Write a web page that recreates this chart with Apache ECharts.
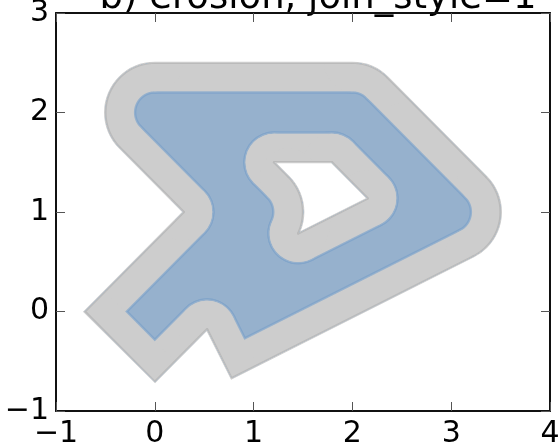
<!DOCTYPE html>
<html><head><meta charset="utf-8">
<script src="https://cdn.jsdelivr.net/npm/echarts@6/dist/echarts.min.js"></script>
<style>html,body{margin:0;padding:0;background:#fff;} #chart{width:560px;height:447px;}</style>
</head><body><div id="chart"></div>
<script>
// ---- data ----
const titleText = 'b) erosion, join_style=1';
const lineX = [0, 1, 0, 2, 3, 1];   // source line vertices (x)
const lineY = [0, 1, 2, 2, 1, 0];   // source line vertices (y)
const dilateDist = 0.5;             // gray polygon = line.buffer(0.5, cap_style=square)
const erodeDist = 0.3;              // blue polygon = gray.buffer(-0.3), round joins
const xTicks = [-1, 0, 1, 2, 3, 4];
const yTicks = [-1, 0, 1, 2, 3];

// ---- geometry: dilated line = union of segment rectangles (square end caps) + join disks ----
function components(X, Y, r) {
  const comps = [], n = X.length;
  for (let i = 0; i < n - 1; i++) {
    const dx = X[i + 1] - X[i], dy = Y[i + 1] - Y[i], len = Math.hypot(dx, dy);
    const tx = dx / len, ty = dy / len;
    comps.push({ kind: 'rect', ax: X[i], ay: Y[i], tx: tx, ty: ty, nx: -ty, ny: tx,
      s0: i === 0 ? -r : 0, s1: i === n - 2 ? len + r : len, r: r });
  }
  for (let j = 1; j < n - 1; j++) comps.push({ kind: 'disk', cx: X[j], cy: Y[j], r: r });
  return comps;
}
function strictlyInside(c, px, py) {
  const eps = 1e-9;
  if (c.kind === 'disk') return Math.hypot(px - c.cx, py - c.cy) < c.r - eps;
  const s = (px - c.ax) * c.tx + (py - c.ay) * c.ty, q = (px - c.ax) * c.nx + (py - c.ay) * c.ny;
  return s > c.s0 + eps && s < c.s1 - eps && Math.abs(q) < c.r - eps;
}
function boundaryPieces(X, Y, r) {
  const comps = components(X, Y, r), step = 0.002, pieces = [];
  comps.forEach(function (c, k) {
    const curves = [];
    if (c.kind === 'rect') {
      const P = function (s, q) { return [c.ax + c.tx * s + c.nx * q, c.ay + c.ty * s + c.ny * q]; };
      const corners = [P(c.s0, r), P(c.s1, r), P(c.s1, -r), P(c.s0, -r)];
      for (let e = 0; e < 4; e++) {
        const A = corners[e], B = corners[(e + 1) % 4];
        const m = Math.ceil(Math.hypot(B[0] - A[0], B[1] - A[1]) / step), pts = [];
        for (let t = 0; t <= m; t++) pts.push([A[0] + (B[0] - A[0]) * t / m, A[1] + (B[1] - A[1]) * t / m]);
        curves.push({ pts: pts, closed: false });
      }
    } else {
      const m = Math.ceil(2 * Math.PI * r / step), pts = [];
      for (let t = 0; t < m; t++) {
        const a = 2 * Math.PI * t / m;
        pts.push([c.cx + r * Math.cos(a), c.cy + r * Math.sin(a)]);
      }
      curves.push({ pts: pts, closed: true });
    }
    curves.forEach(function (cv) {
      let pts = cv.pts;
      let keep = pts.map(function (p) {
        for (let j = 0; j < comps.length; j++) if (j !== k && strictlyInside(comps[j], p[0], p[1])) return false;
        return true;
      });
      if (cv.closed) {
        const idx = keep.indexOf(false);
        if (idx < 0) { pieces.push(pts.concat([pts[0]])); return; }
        pts = pts.slice(idx).concat(pts.slice(0, idx));
        keep = keep.slice(idx).concat(keep.slice(0, idx));
      }
      let run = [];
      for (let t = 0; t < pts.length; t++) {
        if (keep[t]) run.push(pts[t]);
        else { if (run.length > 1) pieces.push(run); run = []; }
      }
      if (run.length > 1) pieces.push(run);
    });
  });
  return pieces;
}
const dilatedBoundary = boundaryPieces(lineX, lineY, dilateDist);

// ---- chart ----
const chart = echarts.init(document.getElementById('chart'), null, { renderer: 'canvas' });
const fmt = function (v) { return v < 0 ? '\u2212' + Math.abs(v) : String(v); };
function makeAxis(pos, ticks, showLabel, margin) {
  return {
    type: 'value', position: pos,
    min: ticks[0], max: ticks[ticks.length - 1], interval: ticks[1] - ticks[0],
    axisLine: { show: true, onZero: false, lineStyle: { color: '#111', width: 2 } },
    axisTick: { show: true, inside: true, length: 9, lineStyle: { color: '#555', width: 1 } },
    axisLabel: { show: showLabel, formatter: fmt, fontSize: 30, fontFamily: 'DejaVu Sans', color: '#000', margin: margin },
    splitLine: { show: false }
  };
}
const stroke = function (pts, w, color, cap) {
  return { type: 'polyline', silent: true, shape: { points: pts },
    style: { fill: 'none', stroke: color, lineWidth: w, lineCap: cap || 'round', lineJoin: 'round' } };
};
function pxLine(api) { return lineX.map(function (x, i) { return api.coord([x, lineY[i]]); }); }
function unit(api) { const s = api.size([1, 1]); return (s[0] + s[1]) / 2; }
// fill path of the dilated shape in pixel space (all sub-paths same orientation -> nonzero = union)
function dilatedPathData(L, R) {
  const f = function (v) { return v.toFixed(3); };
  const pt = function (p) { return f(p[0]) + ' ' + f(p[1]); };
  const A = ' A ' + f(R) + ' ' + f(R) + ' 0 0 0 ';
  let d = '';
  const n = L.length;
  for (let i = 0; i < n - 1; i++) {
    const a = L[i], b = L[i + 1];
    const dx = b[0] - a[0], dy = b[1] - a[1], len = Math.hypot(dx, dy);
    const tx = dx / len, ty = dy / len, nx = -ty, ny = tx;
    const s0 = i === 0 ? -R : 0, s1 = i === n - 2 ? len + R : len;
    const P = function (s, q) { return [a[0] + tx * s + nx * q, a[1] + ty * s + ny * q]; };
    d += 'M ' + pt(P(s0, R)) + ' L ' + pt(P(s1, R)) + ' L ' + pt(P(s1, -R)) + ' L ' + pt(P(s0, -R)) + ' Z ';
  }
  for (let j = 1; j < n - 1; j++) {
    const c = L[j];
    d += 'M ' + pt([c[0] + R, c[1]]) + A + pt([c[0], c[1] - R]) + A + pt([c[0] - R, c[1]]) +
      A + pt([c[0], c[1] + R]) + A + pt([c[0] + R, c[1]]) + ' Z ';
  }
  return d;
}
const edge = 1.2;

chart.setOption({
  animation: false,
  grid: { left: 56, right: 10, top: 13, bottom: 36, containLabel: false, outerBoundsMode: 'none' },
  graphic: [{
    type: 'text', x: 318, y: -2, silent: true,
    style: { text: titleText, fontSize: 37, fontFamily: 'DejaVu Sans', fill: '#000', textAlign: 'center', textVerticalAlign: 'middle' }
  }],
  xAxis: [makeAxis('bottom', xTicks, true, 8), makeAxis('top', xTicks, false, 8)],
  yAxis: [makeAxis('left', yTicks, true, 7), makeAxis('right', yTicks, false, 7)],
  series: [
    {
      type: 'custom', coordinateSystem: 'cartesian2d', xAxisIndex: 0, yAxisIndex: 0,
      silent: true, data: [[0, 0]],
      renderItem: function (params, api) {
        const u = unit(api);
        const L = pxLine(api);
        const dPath = dilatedPathData(L, dilateDist * u);
        const B = dilatedBoundary.map(function (pc) { return pc.map(function (p) { return api.coord(p); }); });
        const inner = [];
        inner.push({ type: 'path', silent: true, shape: { pathData: dPath }, style: { fill: '#96b1cd', stroke: 'none' } });
        B.forEach(function (pts) { inner.push(stroke(pts, 2 * (erodeDist * u + edge), '#82a5ca')); });
        B.forEach(function (pts) { inner.push(stroke(pts, 2 * erodeDist * u, '#96b1cd')); });
        B.forEach(function (pts) { inner.push(stroke(pts, 2 * (erodeDist * u - edge), '#cdcdcd')); });
        B.forEach(function (pts) { inner.push(stroke(pts, 2 * edge, '#bababa')); });
        return { type: 'group', children: [
          stroke(L, 2 * dilateDist * u + 2 * edge, '#cccccc', 'square'),
          { type: 'group', children: inner,
            clipPath: { type: 'path', shape: { pathData: dPath } } }
        ] };
      }
    }
  ]
});
</script>
</body></html>
